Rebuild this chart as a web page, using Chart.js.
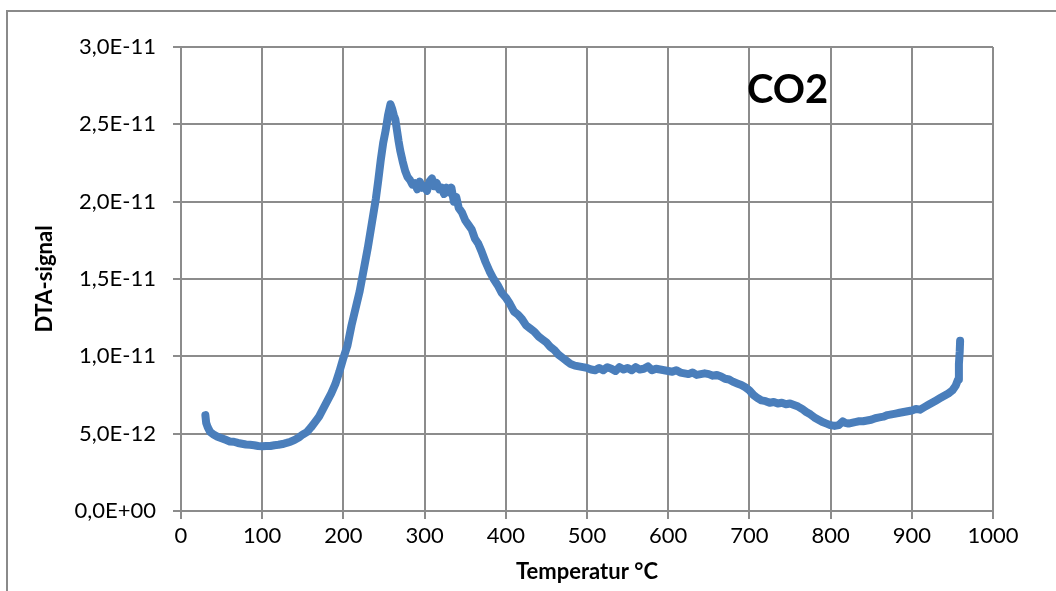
<!DOCTYPE html>
<html>
<head>
<meta charset="utf-8">
<script src="https://cdn.jsdelivr.net/npm/chart.js@4/dist/chart.umd.min.js"></script>
<style>
  html, body { margin: 0; padding: 0; background: #fff; }
  #wrap { position: relative; width: 1056px; height: 591px; }
</style>
</head>
<body>
<div id="wrap"><canvas id="co2-chart" width="1056" height="591"></canvas></div>
<script>
// Temperature (°C) and DTA signal (in units of 1E-12)
const temps = [
    30, 31, 33, 36, 40, 45, 50, 55, 60, 65, 70, 75, 80, 85, 90, 95, 100, 105, 110, 115,
    120, 125, 130, 135, 140, 145, 150, 155, 160, 165, 170, 175, 180, 185, 190, 195, 200, 205, 210, 215,
    220, 225, 230, 235, 240, 243, 246, 249, 252, 255, 258, 260, 262, 264, 266, 268, 270, 273, 276, 279,
    282, 285, 288, 291, 294, 297, 300, 303, 306, 309, 312, 315, 318, 321, 324, 327, 330, 333, 336, 339,
    342, 346, 350, 354, 358, 362, 366, 370, 375, 380, 385, 390, 395, 400, 405, 410, 415, 420, 425, 430,
    435, 440, 445, 450, 455, 460, 465, 470, 475, 480, 485, 490, 495, 500, 505, 510, 515, 520, 525, 530,
    535, 540, 545, 550, 555, 560, 565, 570, 575, 580, 585, 590, 595, 600, 605, 610, 615, 620, 625, 630,
    635, 640, 645, 650, 655, 660, 665, 670, 675, 680, 685, 690, 695, 700, 705, 710, 715, 720, 725, 730,
    735, 740, 745, 750, 755, 760, 765, 770, 775, 780, 785, 790, 795, 800, 805, 810, 815, 818, 822, 826,
    830, 835, 840, 845, 850, 855, 860, 865, 870, 875, 880, 885, 890, 895, 900, 905, 910, 915, 920, 925,
    930, 935, 940, 945, 950, 954, 957, 958, 959, 959.5
];
const signalE12 = [
    6.2, 5.7, 5.4, 5.1, 4.95, 4.8, 4.7, 4.6, 4.5, 4.48, 4.4, 4.35, 4.3, 4.28, 4.25, 4.2, 4.18, 4.2, 4.2, 4.25,
    4.28, 4.33, 4.4, 4.48, 4.6, 4.75, 4.95, 5.1, 5.4, 5.75, 6.1, 6.6, 7.1, 7.6, 8.2, 9.0, 9.9, 10.7, 12.0, 13.1,
    14.2, 15.6, 17.0, 18.6, 20.2, 21.4, 22.7, 23.8, 24.6, 25.6, 26.3, 26.0, 25.6, 25.3, 24.6, 23.9, 23.3, 22.6, 22.0, 21.6,
    21.4, 21.1, 21.2, 20.8, 21.3, 20.9, 21.0, 20.7, 21.3, 21.5, 21.0, 21.2, 20.8, 20.9, 20.5, 20.9, 20.6, 20.9, 20.0, 20.3,
    19.6, 19.3, 18.8, 18.5, 18.2, 17.6, 17.3, 16.8, 16.1, 15.5, 15.0, 14.6, 14.1, 13.8, 13.4, 12.9, 12.7, 12.4, 12.0, 11.8,
    11.6, 11.3, 11.1, 10.9, 10.6, 10.4, 10.1, 9.9, 9.7, 9.5, 9.4, 9.35, 9.3, 9.25, 9.15, 9.1, 9.25, 9.1, 9.3, 9.2,
    9.05, 9.3, 9.15, 9.25, 9.1, 9.3, 9.15, 9.2, 9.35, 9.1, 9.2, 9.15, 9.1, 9.05, 9.0, 9.1, 8.95, 8.9, 8.85, 8.95,
    8.8, 8.85, 8.9, 8.85, 8.75, 8.8, 8.7, 8.55, 8.5, 8.35, 8.25, 8.15, 8.0, 7.8, 7.5, 7.3, 7.15, 7.1, 7.0, 7.05,
    6.95, 7.0, 6.9, 6.95, 6.85, 6.75, 6.6, 6.4, 6.25, 6.05, 5.9, 5.75, 5.65, 5.55, 5.5, 5.55, 5.8, 5.7, 5.65, 5.7,
    5.75, 5.8, 5.8, 5.85, 5.9, 6.0, 6.05, 6.1, 6.2, 6.25, 6.3, 6.35, 6.4, 6.45, 6.5, 6.6, 6.55, 6.7, 6.85, 7.0,
    7.15, 7.3, 7.45, 7.6, 7.8, 8.1, 8.5, 9.5, 10.3, 11.0
];

const X_MIN = 0, X_MAX = 1000, X_STEP = 100;
const Y_MIN = 0, Y_MAX = 3e-11, Y_STEP = 5e-12;

const GRID = "#8c8c8c";
const LINE = "#4a7ebb";
const FONT = "Lato, 'Open Sans', sans-serif";

// 3.0e-11 -> "3,0E-11"
function sciComma(v) {
    if (Math.abs(v) < 1e-20) return "0,0E+00";
    let exp = Math.floor(Math.log10(Math.abs(v)));
    let man = v / Math.pow(10, exp);
    if (man >= 9.95) { man /= 10; exp += 1; }
    if (man < 0.995) { man *= 10; exp -= 1; }
    const sign = exp < 0 ? "-" : "+";
    const e = String(Math.abs(exp)).padStart(2, "0");
    return man.toFixed(1).replace(".", ",") + "E" + sign + e;
}

// outer frame + the "CO2" label
const decorations = {
    id: "decorations",
    beforeDraw(chart) {
        const ctx = chart.ctx;
        ctx.save();
        ctx.strokeStyle = "#8a8a8a";
        ctx.lineWidth = 2;
        ctx.strokeRect(7, 11, 1200, 800);
        ctx.restore();
    },
    afterDatasetsDraw(chart) {
        const { ctx, scales } = chart;
        ctx.save();
        ctx.fillStyle = "#000";
        ctx.font = "bold 40px " + FONT;
        ctx.textAlign = "center";
        ctx.textBaseline = "alphabetic";
        ctx.fillText("CO2", scales.x.getPixelForValue(747), scales.y.getPixelForValue(26.4e-12));
        ctx.restore();
    },
};

const points = temps.map((t, i) => ({ x: t, y: signalE12[i] * 1e-12 }));

new Chart(document.getElementById("co2-chart"), {
    type: "line",
    data: {
        datasets: [{
            data: points,
            borderColor: LINE,
            backgroundColor: LINE,
            borderWidth: 8,
            borderCapStyle: "round",
            borderJoinStyle: "round",
            pointRadius: 0,
            tension: 0,
            fill: false,
        }],
    },
    options: {
        responsive: false,
        animation: false,
        devicePixelRatio: 1,
        layout: { padding: { left: 0, top: 47, right: 63, bottom: 0 } },
        plugins: {
            legend: { display: false },
            tooltip: { enabled: false },
        },
        scales: {
            x: {
                type: "linear",
                min: X_MIN,
                max: X_MAX,
                afterFit: (s) => { s.height = 80; },
                ticks: {
                    stepSize: X_STEP,
                    color: "#000",
                    font: { family: FONT, size: 22 },
                    padding: 4,
                    maxRotation: 0,
                    callback: (v) => String(v),
                },
                grid: { color: GRID, lineWidth: 2, tickLength: 8 },
                border: { color: GRID, width: 2 },
                title: {
                    display: true,
                    text: "Temperatur °C",
                    color: "#000",
                    font: { family: FONT, size: 22, weight: "bold" },
                    padding: { top: 0, bottom: 6 },
                },
            },
            y: {
                min: Y_MIN,
                max: Y_MAX,
                afterFit: (s) => { s.width = 181; },
                ticks: {
                    stepSize: Y_STEP,
                    color: "#000",
                    font: { family: FONT, size: 22 },
                    padding: 17,
                    callback: (v) => sciComma(v),
                },
                grid: { color: GRID, lineWidth: 2, tickLength: 8 },
                border: { color: GRID, width: 2 },
                title: {
                    display: true,
                    text: "DTA-signal",
                    color: "#000",
                    font: { family: FONT, size: 22, weight: "bold" },
                    padding: { top: 32, bottom: 0 },
                },
            },
        },
    },
    plugins: [decorations],
});
</script>
</body>
</html>
